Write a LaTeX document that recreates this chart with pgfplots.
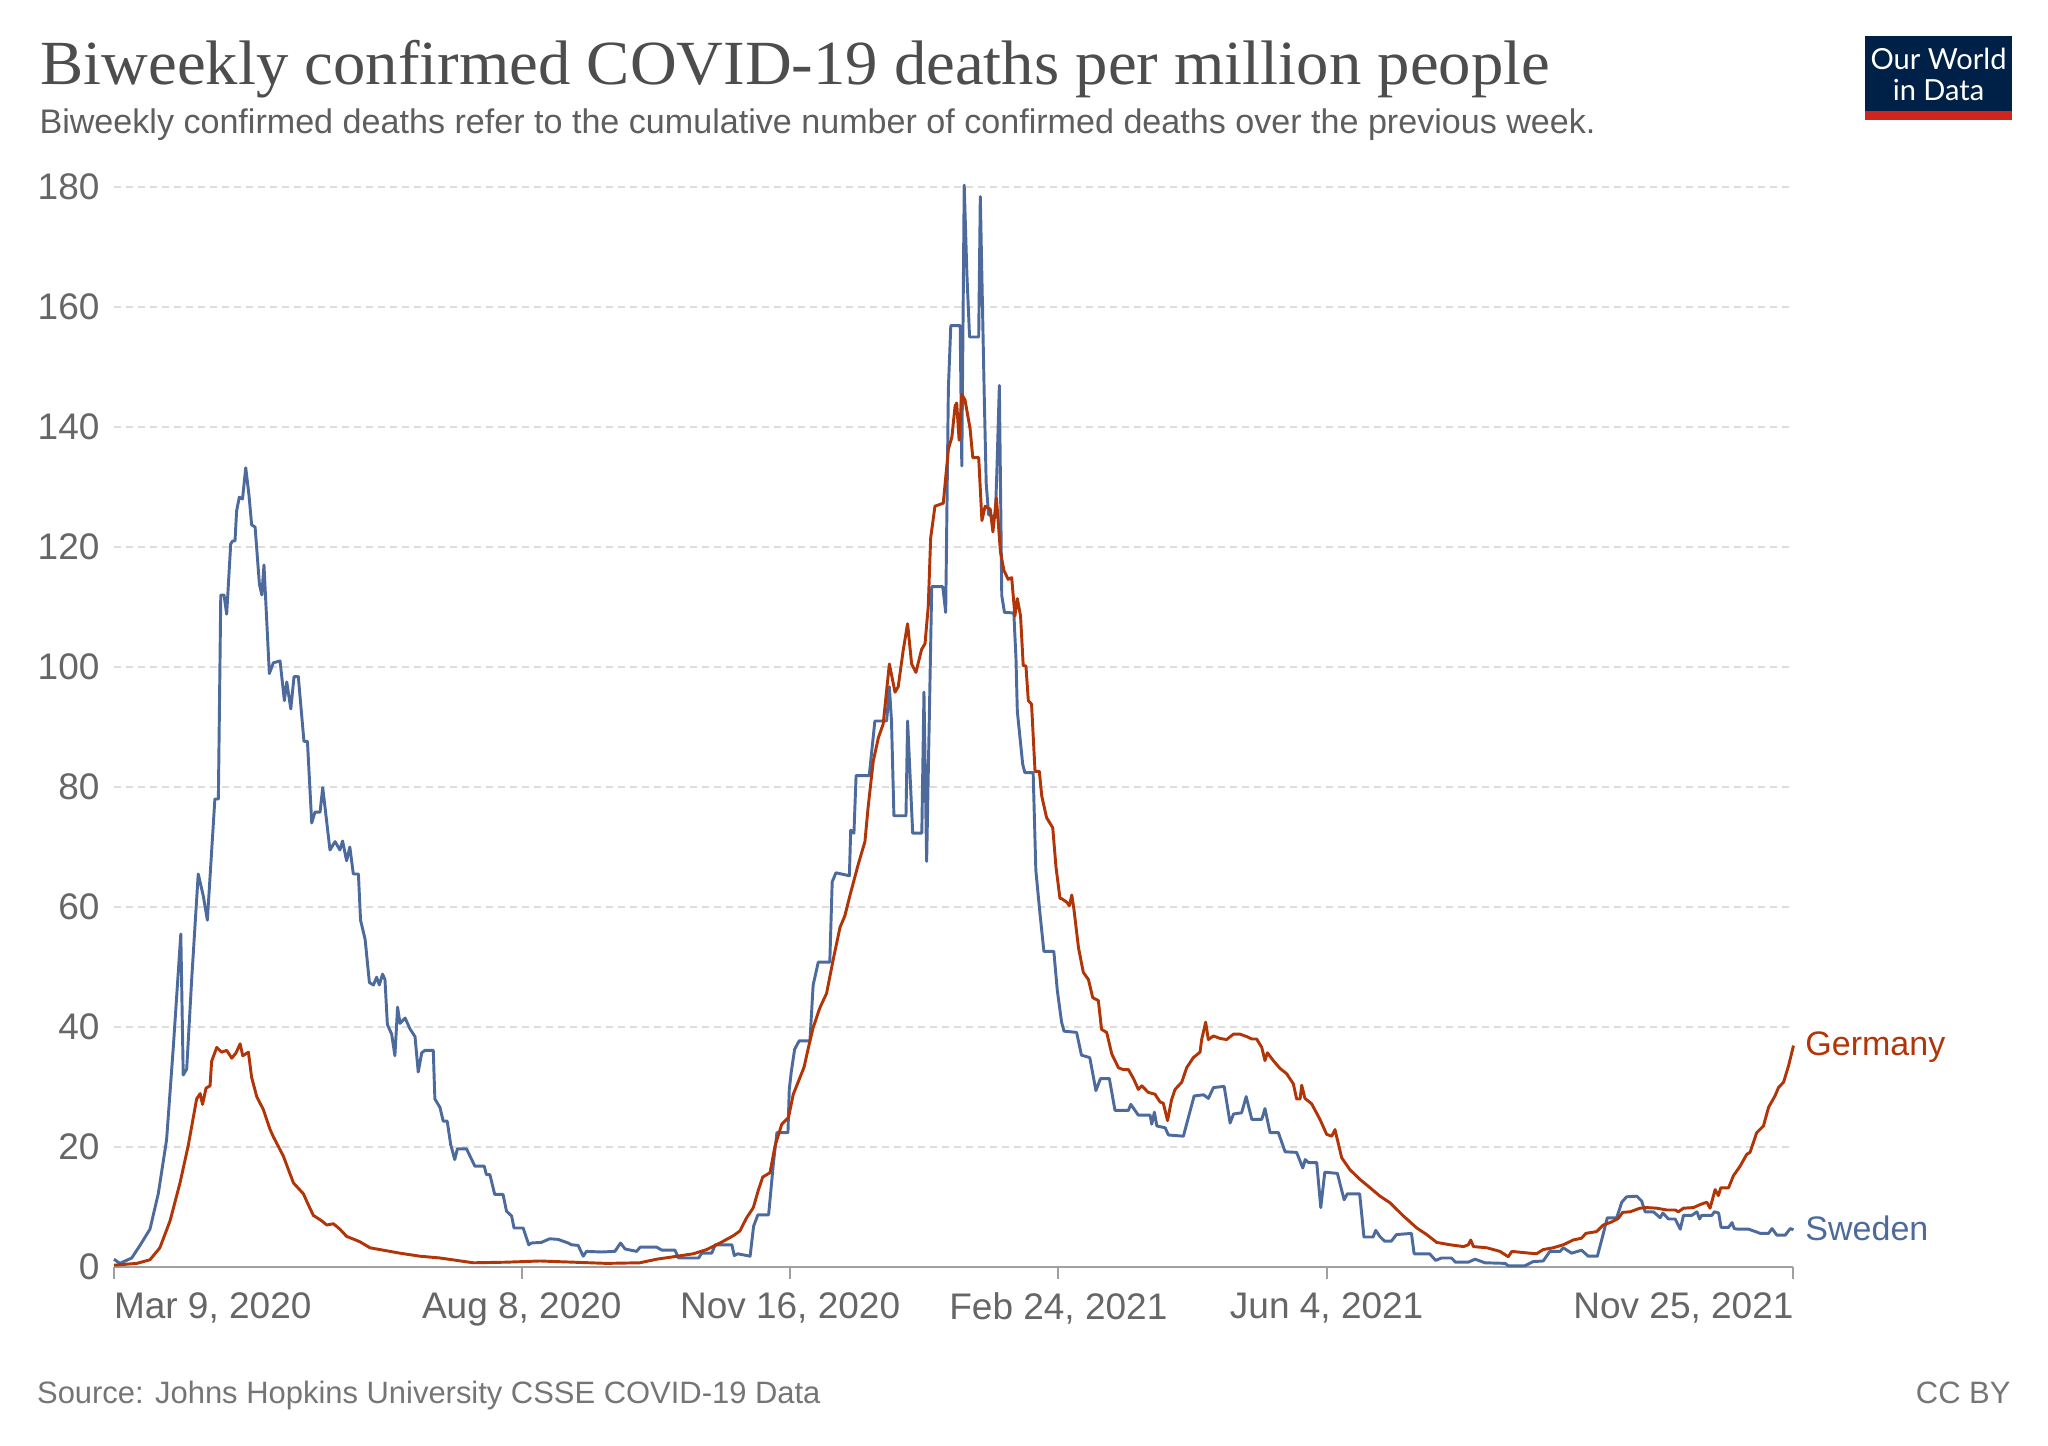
\documentclass[border=0pt]{standalone}
\usepackage{fontspec}
\setmainfont{Liberation Sans}
\newfontfamily\titlefont{Liberation Serif}
\newfontfamily\lato{Lato}
\usepackage{pgfplots}
\pgfplotsset{compat=1.18}
\usepackage{pgfplotstable}
\definecolor{titlegray}{HTML}{4D4D4D}
\definecolor{subgray}{HTML}{5E5E5E}
\definecolor{tickgray}{HTML}{666666}
\definecolor{footgray}{HTML}{757575}
\definecolor{gridgray}{HTML}{DDDDDD}
\definecolor{axisgray}{HTML}{A0A0A0}
\definecolor{owidnavy}{HTML}{002147}
\definecolor{owidred}{HTML}{CE261E}
\definecolor{germany}{HTML}{B13507}
\definecolor{sweden}{HTML}{4C6A9C}

\pgfplotstableread{
day val
0 1.3
2.2 0.6
6.6 1.5
9.7 3.6
13.4 6.3
16.5 12.2
19.6 21.2
22.1 36.6
24.9 55.5
25.8 32
27.1 33
29 48.3
31.4 65.5
33.3 61.8
34.8 57.8
37.6 78
38.9 78
39.8 112
41 112
42 108.8
43.5 120.5
44.2 121
45.1 121
45.7 126
46.7 128.3
47.9 128
49.1 133.2
50.3 128.7
51.3 123.7
52.6 123.3
54.2 113.8
55.1 112
55.9 117
57.9 98.9
59.4 100.7
61.9 101
63.5 94.4
64.4 97.5
65.9 93
67.1 98.4
68.7 98.4
70.8 87.6
72.1 87.6
73.7 74
74.9 75.8
76.8 75.8
77.8 79.9
80.5 69.5
82.4 70.9
84.2 69.5
85.2 71
86.7 67.7
87.9 70
89.2 65.5
91.1 65.5
91.9 57.8
93.6 54.6
95.2 47.4
96.7 47
97.9 48.3
98.9 47
100.1 48.8
101 47.9
101.9 40.4
103.5 38.8
104.7 35.2
105.7 43.3
106.6 40.6
108.5 41.5
110.3 39.7
112.2 38.4
113.4 32.5
114.7 35.7
115.9 36.1
119 36.1
119.6 28
121.5 26.6
122.7 24.3
124.2 24.3
125.5 20.4
127 17.9
128 19.7
131.4 19.7
134.5 16.8
138 16.8
138.8 15.4
140.1 15.4
141.9 12.1
145 12.1
146.3 9.3
148.2 8.5
149.1 6.5
152.5 6.5
154.6 3.7
155.6 4
159.3 4.1
162.4 4.7
165.5 4.6
169.3 4
170.5 3.7
173 3.6
174.9 1.8
176.1 2.6
181.7 2.5
186.7 2.6
188.8 4
190.5 3
194.8 2.6
196.1 3.3
202.3 3.3
204.2 2.8
209.1 2.8
210.4 1.5
217.9 1.5
219.1 2.3
222.8 2.3
224.1 3.7
230.3 3.7
231.2 1.9
232.5 2.2
237.1 1.8
238.4 6.8
240 8.7
244 8.7
245.8 17.4
247.1 22.4
251.2 22.4
251.7 29.6
252.4 32.4
253.7 36.3
255.4 37.7
259.4 37.7
260.6 47
262.5 50.8
266.8 50.8
267.7 64.2
269.1 65.7
274.1 65.2
274.6 72.8
275.8 72.3
276.6 81.9
281.5 81.9
283.6 91
288 91
289 96.7
289.8 91
290.7 75.2
295.2 75.2
295.8 91
297.7 72.3
301.1 72.3
301.9 95.8
302.9 67.6
304.8 113.4
308.9 113.4
310 109.1
311 146.4
311.9 156.9
315.4 156.9
316 133.5
316.9 180.3
317.9 165.5
318.9 155
322.3 155
322.9 178.4
324.4 144.5
325.1 130.6
326 125.4
328.5 124.9
329.1 133
330 146.9
330.9 111.9
331.9 109.1
335.4 109
336.2 101.4
336.7 92.6
338.7 83.8
339.5 82.4
342.6 82.4
343.6 66.1
345.1 59.1
346.6 52.6
350.3 52.6
351.6 46.1
353.2 40.8
354.1 39.3
358.8 39.1
360.6 35.3
363.7 34.9
366 29.4
367.7 31.4
371 31.4
373.1 26.1
378.1 26.1
379 27.1
381.8 25.3
386.2 25.3
386.8 23.8
387.8 25.8
388.7 23.5
391.8 23.2
393 22
398.6 21.8
400.8 25.5
402.6 28.5
406.1 28.7
407.9 28.1
409.8 29.9
413.8 30.1
416 24
417.3 25.5
420.3 25.7
422 28.4
424.1 24.6
427.8 24.6
429 26.4
430.9 22.4
434 22.4
436.5 19.2
440.8 19.1
443.1 16.5
444 17.9
445.2 17.4
448.3 17.4
449.8 9.9
451.3 15.8
456 15.6
458.5 11.2
459.7 12.2
464.3 12.2
465.9 5
469.3 5
470.3 6.1
471.8 5.1
473.6 4.3
476.1 4.3
478 5.4
483.6 5.6
484.6 2.2
490.4 2.2
492.6 1.1
494.8 1.5
498.5 1.5
500 0.8
504.8 0.8
507.3 1.3
511 0.7
518.5 0.6
519.7 0.2
525.9 0.2
529 0.9
532.7 1
535.2 2.6
539 2.6
540.2 3.2
543.3 2.3
547 2.8
549.5 1.8
552.9 1.8
554.5 4.5
556.6 8.2
560.1 8.2
562 10.8
563.8 11.7
567.6 11.8
569.4 11
570.7 9.2
573.8 9.2
576.3 8.2
577.3 9
579.4 8
581.9 8
583.8 6.3
585 8.6
588.1 8.6
590 9.2
591 8
591.8 8.6
595.6 8.6
596.5 9.2
598.1 9
599 6.6
601.8 6.6
603.1 7.4
603.9 6.4
605.2 6.3
609.3 6.3
611.8 5.9
613.6 5.6
616.7 5.6
618 6.4
619.8 5.3
622.9 5.3
624.8 6.4
626 6.2
}\sweden

\pgfplotstableread{
day val
0 0.3
8.5 0.6
13.4 1.2
17.1 3.2
20.9 7.7
24.6 14
27.7 20.3
30.8 28
32.1 28.9
33 27.1
34.3 29.8
35.8 30.2
36.4 34.3
38.3 36.6
40.1 35.8
42 36.1
43.9 34.8
45.5 35.7
47 37.2
48 35.2
50.1 35.8
51.3 31.6
53.2 28.4
55.7 26.2
58.1 23
59.4 21.7
63.1 18.5
66.9 14
70.6 12.2
72.4 10.4
74.3 8.6
77.4 7.7
79.3 7
81.8 7.2
84.2 6.3
86.7 5.1
91.7 4.2
95.4 3.2
101.6 2.7
106.6 2.3
114 1.8
121.5 1.5
133.9 0.7
146.3 0.8
158.7 1.0
171.2 0.8
183.6 0.6
196 0.7
202.3 1.3
208.5 1.7
215.9 2.2
220.9 2.9
225.9 4
230.8 5.2
233.3 6
235.8 8.2
238.3 9.9
240.1 12.7
241.8 15
244.5 15.7
246.4 20.2
248.9 23.8
251.4 24.9
253.2 28.8
255.7 31.6
257.2 33.3
258.8 36.5
260.6 39.9
263.1 43.2
265.6 45.6
268.1 51.3
270.6 56.6
272.4 58.5
274.3 61.9
277.4 67.1
279.9 70.9
281.1 76.7
283 84.3
284.9 88.2
286.7 90.5
289 100.5
291.1 95.8
292.3 96.7
294.2 102.9
295.8 107.2
297.3 100.5
298.9 99.1
301 102.9
302.3 103.9
303.5 110.1
304.4 121.5
306 126.8
309.1 127.3
311 136.3
312.3 138.3
313.5 143.5
314.1 144
315 137.8
316 145.4
317.2 144.5
319.1 139.7
320.1 134.9
322.3 134.9
323.5 124.4
324.7 126.8
326.6 126.3
327.6 122.5
328.9 128.2
330.4 119.2
331.7 116.1
333.3 114.6
334.6 114.9
335.8 108.5
336.7 111.4
337.9 108.5
338.9 100.2
339.9 100.2
340.8 94.4
342 93.8
343.3 82.6
344.9 82.6
345.8 78.5
347.6 74.9
349.9 73.2
351.1 66.7
352.6 61.4
353.2 61.4
355.1 60.8
356.1 60.2
357 62
357.8 59.6
359.5 53.2
361.3 49.1
363.2 47.9
364.8 44.9
366.9 44.4
368.1 39.6
370 39.1
371.9 35.5
374.4 33.2
376.2 32.9
378.1 32.9
380 31.4
381.8 29.6
383.1 30.2
385.5 29.1
388 28.8
389.9 27.5
391.1 27.3
392.7 24.4
394.2 27.9
395.5 29.6
398 30.8
399.8 33.2
402.3 34.9
404.8 35.8
405.4 37.9
406.9 40.8
407.9 37.9
409.8 38.5
412.2 38.1
414.7 37.9
417.2 38.8
419.7 38.8
422.2 38.4
424.1 38
425.9 38
427.8 36.6
429 34.4
429.9 35.7
432.1 34.4
434.6 33.1
437.1 32.2
439.6 30.5
440.8 28
442.1 28
442.7 30.3
443.9 28.1
446.4 27.2
449.5 24.6
452 22.1
453.9 21.8
455.1 22.9
457.6 18.2
460.7 16.2
464.4 14.6
468.2 13.2
471.9 11.8
475.6 10.7
480.6 8.5
485.6 6.5
489.3 5.4
493 4.1
498 3.7
503 3.4
504.8 3.7
505.7 4.5
506.7 3.4
511.7 3.2
516.6 2.6
519.7 1.7
521 2.6
525.3 2.4
530.2 2.2
532.7 2.9
536.4 3.2
540.2 3.7
543.9 4.5
547 4.8
548.6 5.6
552.6 5.9
555.1 7
558.2 7.5
560.7 8.1
562.3 9.1
565.1 9.2
568.8 9.8
571.3 9.9
575 9.8
578.8 9.5
581.9 9.5
583.1 9.2
585 9.8
588.7 9.9
591.2 10.4
593.7 10.8
594.9 9.8
596.8 12.9
598 11.9
598.9 13.2
601.8 13.2
603.6 15.2
606.1 16.8
608.6 18.8
609.8 19.1
612.3 22.4
614.8 23.5
616.7 26.6
619.2 28.6
620.4 29.9
622.3 30.8
624.2 33.6
626 36.9
}\germany

\begin{document}
\begin{tikzpicture}[x=0.375pt,y=0.375pt]
\useasboundingbox (0,0) rectangle (2048,1446);
% title and subtitle
\node[anchor=base west, inner sep=0pt, text=titlegray] at (40,1361)
  {\resizebox{566pt}{16.6pt}{\titlefont Biweekly confirmed COVID-19 deaths per million people}};
\node[anchor=base west, inner sep=0pt, text=subgray] at (39,1312.7)
  {\resizebox{583.5pt}{!}{\fontsize{13.1pt}{15pt}\selectfont Biweekly confirmed deaths refer to the cumulative number of confirmed deaths over the previous week.}};
% logo
\fill[owidnavy] (1865,1335.3) rectangle (2012,1410);
\fill[owidred] (1865,1326) rectangle (2012,1335.3);
\node[anchor=base, inner sep=0pt, text=white] at (1938.5,1376.7) {\lato\fontsize{10.9pt}{12pt}\selectfont Our World};
\node[anchor=base, inner sep=0pt, text=white] at (1938.5,1345.3) {\lato\fontsize{10.9pt}{12pt}\selectfont in Data};
% footer
\node[anchor=base west, inner sep=0pt, text=footgray] at (36.6,42)
  {\fontsize{11.6pt}{13pt}\selectfont Source: Johns Hopkins University CSSE COVID-19 Data};
\node[anchor=base east, inner sep=0pt, text=footgray] at (2011,42)
  {\fontsize{11.6pt}{13pt}\selectfont CC BY};

\begin{axis}[
  at={(42.75pt,67.125pt)}, anchor=south west,
  scale only axis, width=629.8pt, height=405pt,
  xmin=0, xmax=626, ymin=0, ymax=180,
  clip=false,
  axis lines*=left,
  x axis line style={-, draw=axisgray, line width=0.75pt},
  y axis line style={draw=none},
  xtick={0,152,252,352,452,626},
  xticklabels={\makebox[0pt][l]{Mar 9, 2020},{Aug 8, 2020},{Nov 16, 2020},{Feb 24, 2021},{Jun 4, 2021},\makebox[0pt][r]{Nov 25, 2021}},
  ytick={0,20,...,180},
  tick align=outside,
  major tick length=4.5pt,
  xtick style={draw=axisgray, line width=0.75pt},
  ytick style={draw=none},
  ymajorgrids,
  grid style={dash pattern=on 2.6pt off 1.9pt, draw=gridgray, line width=0.55pt},
  tick label style={font=\fontsize{13.875pt}{15pt}\selectfont, text=tickgray},
  /pgf/number format/assume math mode=true,
  xticklabel style={anchor=north, inner sep=0pt, yshift=-4.76pt},
  yticklabel style={anchor=east, inner sep=0pt, xshift=-0.75pt},
]
\addplot[sweden, line width=1.1pt, line join=round] table[x=day,y=val] {\sweden};
\addplot[germany, line width=1.1pt, line join=round] table[x=day,y=val] {\germany};
\node[anchor=base west, inner sep=0pt, text=germany, xshift=4.3pt, yshift=-3.9pt, font=\fontsize{12.75pt}{14pt}\selectfont] at (axis cs:626,36.9) {Germany};
\node[anchor=base west, inner sep=0pt, text=sweden, xshift=4.3pt, yshift=-3.9pt, font=\fontsize{12.75pt}{14pt}\selectfont] at (axis cs:626,6.2) {Sweden};
\end{axis}
\end{tikzpicture}
\end{document}
